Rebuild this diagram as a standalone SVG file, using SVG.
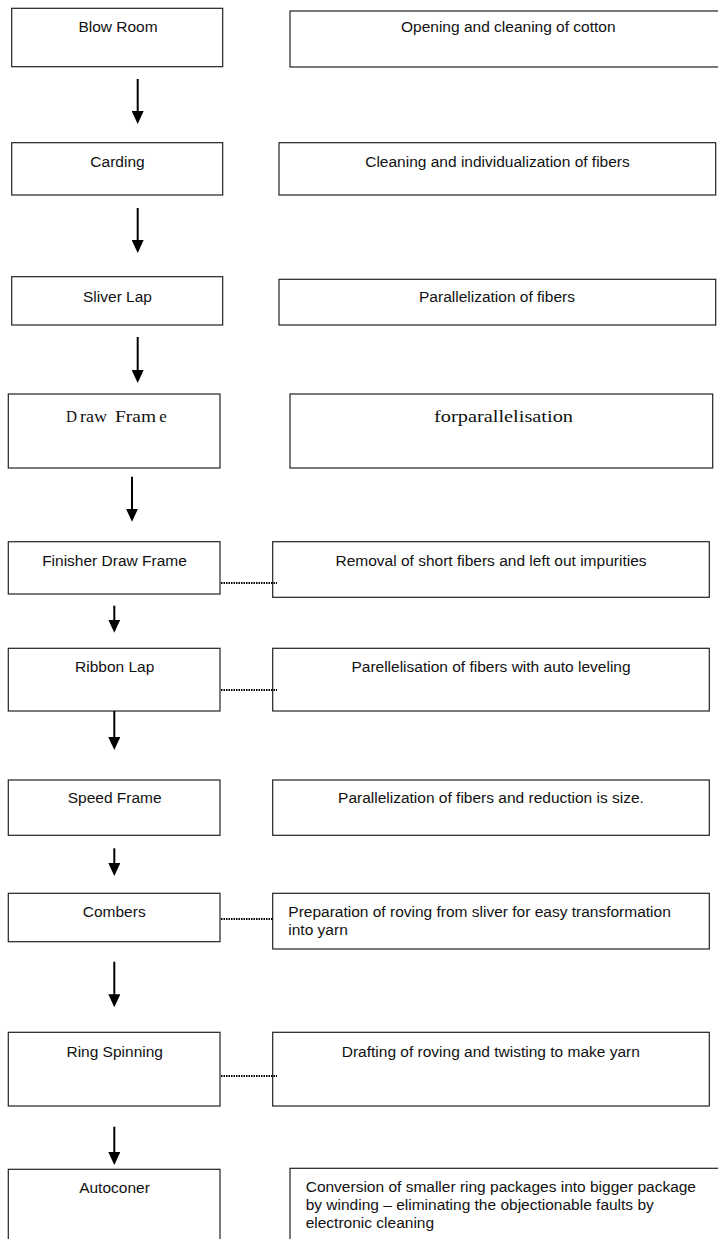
<svg xmlns="http://www.w3.org/2000/svg" width="718" height="1239" viewBox="0 0 718 1239">
<style>
.box{fill:#fff;stroke:#222;stroke-width:1.2}
.t{font-family:"Liberation Sans",Arial,sans-serif;font-size:15.5px;fill:#111;text-anchor:middle}
.tl{font-family:"Liberation Sans",Arial,sans-serif;font-size:15.5px;fill:#111}
.ts{font-family:"Liberation Serif","Times New Roman",serif;font-size:17px;fill:#111}
.arr{stroke:#000;stroke-width:2;fill:none;marker-end:url(#ah)}
.dot{stroke:#000;stroke-width:2;stroke-dasharray:1.5 1;fill:none}
</style>
<defs>
<marker id="ah" viewBox="0 0 13 12" refX="9" refY="6" markerWidth="13" markerHeight="12" markerUnits="userSpaceOnUse" orient="auto">
<path d="M0,0 L13,6 L0,12 z" fill="#000"/>
</marker>
</defs>
<g id="n1"><rect class="box" x="11.7" y="8.3" width="211" height="58.4"/><text class="t" x="118" y="32.3">Blow Room</text></g>
<g id="d1"><rect class="box" x="290" y="11" width="432" height="56"/><text class="t" x="508.3" y="32.3">Opening and cleaning of cotton</text></g>
<g id="n2"><rect class="box" x="11.7" y="142.7" width="211" height="52.3"/><text class="t" x="117.5" y="166.7">Carding</text></g>
<g id="d2"><rect class="box" x="279" y="142.7" width="436.7" height="52.3"/><text class="t" x="497.5" y="166.7">Cleaning and individualization of fibers</text></g>
<g id="n3"><rect class="box" x="11.7" y="276.7" width="211" height="48.3"/><text class="t" x="117.5" y="301.7">Sliver Lap</text></g>
<g id="d3"><rect class="box" x="279" y="279.3" width="436.7" height="45.7"/><text class="t" x="497" y="302.3">Parallelization of fibers</text></g>
<g id="n4"><rect class="box" x="8.3" y="394" width="211.7" height="74"/><text class="ts" x="66" y="421.7"><tspan x="66" textLength="11" lengthAdjust="spacingAndGlyphs">D</tspan><tspan x="80" textLength="27" lengthAdjust="spacingAndGlyphs">raw</tspan> <tspan x="115" textLength="41" lengthAdjust="spacingAndGlyphs">Fram</tspan><tspan x="159.3" textLength="7.5" lengthAdjust="spacingAndGlyphs">e</tspan></text></g>
<g id="d4"><rect class="box" x="290" y="394" width="422.7" height="74"/><text class="ts" x="434" y="421.7" textLength="139" lengthAdjust="spacingAndGlyphs">forparallelisation</text></g>
<g id="n5"><rect class="box" x="8.3" y="541.7" width="211.7" height="52.3"/><text class="t" x="114.5" y="566">Finisher Draw Frame</text></g>
<g id="d5"><rect class="box" x="272.7" y="541.7" width="436.6" height="55.6"/><text class="t" x="491" y="566">Removal of short fibers and left out impurities</text></g>
<g id="n6"><rect class="box" x="8.3" y="648.3" width="211.7" height="62.7"/><text class="t" x="114.7" y="671.7">Ribbon Lap</text></g>
<g id="d6"><rect class="box" x="272.7" y="648.3" width="436.6" height="62.7"/><text class="t" x="491" y="671.7">Parellelisation of fibers with auto leveling</text></g>
<g id="n7"><rect class="box" x="8.3" y="780" width="211.7" height="55.3"/><text class="t" x="114.7" y="803.3">Speed Frame</text></g>
<g id="d7"><rect class="box" x="272.7" y="780" width="436.6" height="55.3"/><text class="t" x="491" y="803.3">Parallelization of fibers and reduction is size.</text></g>
<g id="n8"><rect class="box" x="8.3" y="893.3" width="211.7" height="48.4"/><text class="t" x="114.2" y="916.7">Combers</text></g>
<g id="d8"><rect class="box" x="272.7" y="893.3" width="436.6" height="55.7"/><text class="tl" x="288.3" y="916.7">Preparation of roving from sliver for easy transformation</text><text class="tl" x="288.3" y="935">into yarn</text></g>
<g id="n9"><rect class="box" x="8.3" y="1032.3" width="211.7" height="73.7"/><text class="t" x="114.7" y="1056.7">Ring Spinning</text></g>
<g id="d9"><rect class="box" x="272.7" y="1032.3" width="436.6" height="73.7"/><text class="t" x="490.8" y="1056.7">Drafting of roving and twisting to make yarn</text></g>
<g id="n10"><rect class="box" x="8.3" y="1169.3" width="211.7" height="80"/><text class="t" x="114.5" y="1192.7">Autoconer</text></g>
<g id="d10"><rect class="box" x="290" y="1168.3" width="440" height="80"/><text class="tl" x="305.7" y="1191.7">Conversion of smaller ring packages into bigger package</text><text class="tl" x="305.7" y="1210">by winding – eliminating the objectionable faults by</text><text class="tl" x="305.7" y="1228.3">electronic cleaning</text></g>
<g id="connectors">
<line class="arr" x1="137.7" y1="79" x2="137.7" y2="120"/>
<line class="arr" x1="137.7" y1="208" x2="137.7" y2="249"/>
<line class="arr" x1="137.7" y1="337" x2="137.7" y2="379"/>
<line class="arr" x1="132" y1="476.7" x2="132" y2="517.7"/>
<line class="arr" x1="114.3" y1="605.7" x2="114.3" y2="628.7"/>
<line class="arr" x1="114.3" y1="711" x2="114.3" y2="746"/>
<line class="arr" x1="114.3" y1="848.3" x2="114.3" y2="872"/>
<line class="arr" x1="114.3" y1="961.7" x2="114.3" y2="1003.3"/>
<line class="arr" x1="114.3" y1="1126.7" x2="114.3" y2="1161"/>
<line class="dot" x1="221" y1="583" x2="277" y2="583"/>
<line class="dot" x1="221" y1="690" x2="277" y2="690"/>
<line class="dot" x1="221" y1="919" x2="272.7" y2="919"/>
<line class="dot" x1="221" y1="1076" x2="277" y2="1076"/>
</g>
</svg>
